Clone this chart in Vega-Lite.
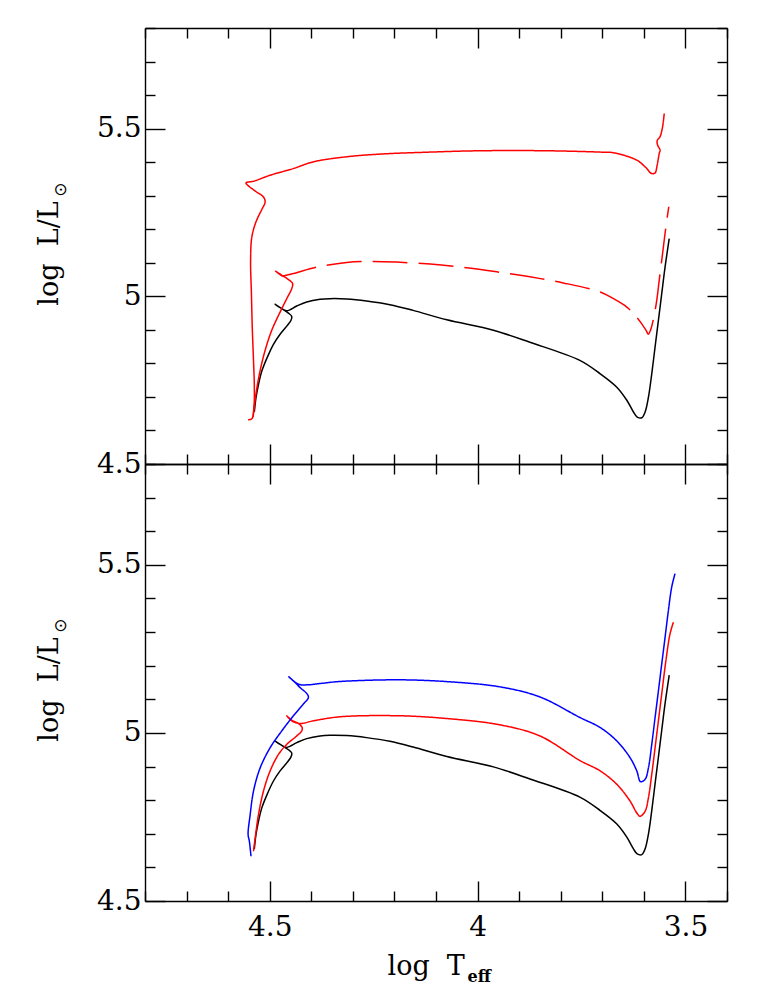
{
  "$schema": "https://vega.github.io/schema/vega-lite/v6.json",
  "background": "white",
  "padding": {"left": 35, "top": 14, "right": 10, "bottom": 5},
  "bounds": "flush",
  "config": {
    "view": {"stroke": null},
    "line": {"interpolate": "catmull-rom"},
    "axis": {
      "grid": false,
      "domainColor": "black", "domainWidth": 1.4,
      "tickColor": "black", "tickWidth": 1.4,
      "labelFont": "DejaVu Serif", "labelFontSize": 28, "labelColor": "black",
      "titleFont": "DejaVu Serif", "titleFontSize": 27, "titleColor": "black", "titleFontWeight": "normal",
      "labelOverlap": false, "labelFlush": false, "labelBound": false
    }
  },
  "datasets": {
    "black": [
      {"i":1,"x":4.537,"y":4.655},{"i":2,"x":4.533,"y":4.698},{"i":3,"x":4.527,"y":4.737},{"i":4,"x":4.519,"y":4.777},
      {"i":5,"x":4.507,"y":4.815},{"i":6,"x":4.491,"y":4.857},{"i":7,"x":4.475,"y":4.887},{"i":8,"x":4.459,"y":4.911},
      {"i":9,"x":4.449,"y":4.928},{"i":10,"x":4.447,"y":4.940},{"i":11,"x":4.455,"y":4.950},{"i":12,"x":4.471,"y":4.963},
      {"i":13,"x":4.487,"y":4.976},{"i":14,"x":4.475,"y":4.966},{"i":15,"x":4.459,"y":4.957},{"i":16,"x":4.435,"y":4.971},
      {"i":17,"x":4.411,"y":4.983},{"i":18,"x":4.379,"y":4.991},{"i":19,"x":4.355,"y":4.993},{"i":20,"x":4.315,"y":4.992},
      {"i":21,"x":4.267,"y":4.986},{"i":22,"x":4.211,"y":4.975},{"i":23,"x":4.155,"y":4.958},{"i":24,"x":4.074,"y":4.930},
      {"i":25,"x":3.962,"y":4.899},{"i":26,"x":3.874,"y":4.863},{"i":27,"x":3.754,"y":4.809},{"i":28,"x":3.705,"y":4.769},
      {"i":29,"x":3.665,"y":4.729},{"i":30,"x":3.641,"y":4.690},{"i":31,"x":3.625,"y":4.655},{"i":32,"x":3.616,"y":4.640},
      {"i":33,"x":3.605,"y":4.638},{"i":34,"x":3.597,"y":4.655},{"i":35,"x":3.589,"y":4.699},{"i":36,"x":3.581,"y":4.769},
      {"i":37,"x":3.573,"y":4.849},{"i":38,"x":3.565,"y":4.928},{"i":39,"x":3.557,"y":5.008},{"i":40,"x":3.549,"y":5.087},
      {"i":41,"x":3.539,"y":5.172}
    ],
    "top": [
      {"s":"B","i":1,"x":4.552,"y":4.632},{"s":"B","i":2,"x":4.543,"y":4.635},{"s":"B","i":3,"x":4.538,"y":4.670},
      {"s":"B","i":4,"x":4.537,"y":4.729},{"s":"B","i":5,"x":4.539,"y":4.809},{"s":"B","i":6,"x":4.542,"y":4.908},
      {"s":"B","i":7,"x":4.544,"y":5.008},{"s":"B","i":8,"x":4.546,"y":5.107},{"s":"B","i":9,"x":4.543,"y":5.177},
      {"s":"B","i":10,"x":4.533,"y":5.222},{"s":"B","i":11,"x":4.519,"y":5.259},{"s":"B","i":12,"x":4.511,"y":5.281},
      {"s":"B","i":13,"x":4.515,"y":5.296},{"s":"B","i":14,"x":4.535,"y":5.314},{"s":"B","i":15,"x":4.557,"y":5.338},
      {"s":"B","i":16,"x":4.539,"y":5.343},{"s":"B","i":17,"x":4.499,"y":5.361},{"s":"B","i":18,"x":4.443,"y":5.381},
      {"s":"B","i":19,"x":4.395,"y":5.401},{"s":"B","i":20,"x":4.315,"y":5.416},{"s":"B","i":21,"x":4.235,"y":5.424},
      {"s":"B","i":22,"x":4.114,"y":5.430},{"s":"B","i":23,"x":3.994,"y":5.434},{"s":"B","i":24,"x":3.834,"y":5.434},
      {"s":"B","i":25,"x":3.705,"y":5.430},{"s":"B","i":26,"x":3.673,"y":5.428},{"s":"B","i":27,"x":3.617,"y":5.406},
      {"s":"B","i":28,"x":3.597,"y":5.386},{"s":"B","i":29,"x":3.581,"y":5.366},{"s":"B","i":30,"x":3.573,"y":5.368},
      {"s":"B","i":31,"x":3.568,"y":5.391},{"s":"B","i":32,"x":3.563,"y":5.426},{"s":"B","i":33,"x":3.561,"y":5.436},
      {"s":"B","i":34,"x":3.567,"y":5.451},{"s":"B","i":35,"x":3.568,"y":5.464},{"s":"B","i":36,"x":3.561,"y":5.476},
      {"s":"B","i":37,"x":3.555,"y":5.505},{"s":"B","i":38,"x":3.551,"y":5.545},
      {"s":"C1","i":1,"x":4.540,"y":4.640},{"s":"C1","i":2,"x":4.533,"y":4.710},{"s":"C1","i":3,"x":4.523,"y":4.779},
      {"s":"C1","i":4,"x":4.511,"y":4.839},{"s":"C1","i":5,"x":4.495,"y":4.899},{"s":"C1","i":6,"x":4.475,"y":4.953},
      {"s":"C1","i":7,"x":4.459,"y":4.993},{"s":"C1","i":8,"x":4.447,"y":5.023},{"s":"C1","i":9,"x":4.445,"y":5.038},
      {"s":"C1","i":10,"x":4.455,"y":5.050},{"s":"C1","i":11,"x":4.471,"y":5.063},{"s":"C1","i":12,"x":4.486,"y":5.075},
      {"s":"C1","i":13,"x":4.470,"y":5.060},
      {"s":"C2","i":1,"x":4.470,"y":5.060},{"s":"C2","i":2,"x":4.443,"y":5.068},{"s":"C2","i":3,"x":4.387,"y":5.087},
      {"s":"C2","i":4,"x":4.315,"y":5.101},{"s":"C2","i":5,"x":4.251,"y":5.104},{"s":"C2","i":6,"x":4.195,"y":5.102},
      {"s":"C2","i":7,"x":4.114,"y":5.096},{"s":"C2","i":8,"x":4.034,"y":5.086},{"s":"C2","i":9,"x":3.954,"y":5.073},
      {"s":"C2","i":10,"x":3.874,"y":5.058},{"s":"C2","i":11,"x":3.794,"y":5.040},{"s":"C2","i":12,"x":3.705,"y":5.013},
      {"s":"C2","i":13,"x":3.673,"y":4.993},{"s":"C2","i":14,"x":3.641,"y":4.968},{"s":"C2","i":15,"x":3.621,"y":4.943},
      {"s":"C2","i":16,"x":3.608,"y":4.923},{"s":"C2","i":17,"x":3.595,"y":4.899},{"s":"C2","i":18,"x":3.589,"y":4.887},
      {"s":"C2","i":19,"x":3.584,"y":4.899},{"s":"C2","i":20,"x":3.576,"y":4.938},{"s":"C2","i":21,"x":3.569,"y":4.988},
      {"s":"C2","i":22,"x":3.563,"y":5.048},{"s":"C2","i":23,"x":3.555,"y":5.127},{"s":"C2","i":24,"x":3.547,"y":5.207},
      {"s":"C2","i":25,"x":3.540,"y":5.267}
    ],
    "bot": [
      {"s":"D","i":1,"x":4.539,"y":4.648},{"s":"D","i":2,"x":4.535,"y":4.687},{"s":"D","i":3,"x":4.527,"y":4.757},
      {"s":"D","i":4,"x":4.515,"y":4.827},{"s":"D","i":5,"x":4.499,"y":4.887},{"s":"D","i":6,"x":4.479,"y":4.936},
      {"s":"D","i":7,"x":4.459,"y":4.966},{"s":"D","i":8,"x":4.435,"y":4.991},{"s":"D","i":9,"x":4.423,"y":5.006},
      {"s":"D","i":10,"x":4.422,"y":5.016},{"s":"D","i":11,"x":4.431,"y":5.028},{"s":"D","i":12,"x":4.447,"y":5.038},
      {"s":"D","i":13,"x":4.459,"y":5.051},{"s":"D","i":14,"x":4.447,"y":5.036},{"s":"D","i":15,"x":4.427,"y":5.028},
      {"s":"D","i":16,"x":4.395,"y":5.036},{"s":"D","i":17,"x":4.331,"y":5.048},{"s":"D","i":18,"x":4.187,"y":5.051},
      {"s":"D","i":19,"x":4.066,"y":5.042},{"s":"D","i":20,"x":3.946,"y":5.024},{"s":"D","i":21,"x":3.850,"y":4.991},
      {"s":"D","i":22,"x":3.754,"y":4.918},{"s":"D","i":23,"x":3.705,"y":4.887},{"s":"D","i":24,"x":3.665,"y":4.847},
      {"s":"D","i":25,"x":3.633,"y":4.797},{"s":"D","i":26,"x":3.617,"y":4.762},{"s":"D","i":27,"x":3.609,"y":4.752},
      {"s":"D","i":28,"x":3.597,"y":4.767},{"s":"D","i":29,"x":3.589,"y":4.807},{"s":"D","i":30,"x":3.581,"y":4.877},
      {"s":"D","i":31,"x":3.573,"y":4.956},{"s":"D","i":32,"x":3.565,"y":5.036},{"s":"D","i":33,"x":3.557,"y":5.116},
      {"s":"D","i":34,"x":3.547,"y":5.215},{"s":"D","i":35,"x":3.537,"y":5.295},{"s":"D","i":36,"x":3.529,"y":5.329},
      {"s":"E","i":1,"x":4.545,"y":4.633},{"s":"E","i":2,"x":4.549,"y":4.678},{"s":"E","i":3,"x":4.552,"y":4.698},
      {"s":"E","i":4,"x":4.547,"y":4.757},{"s":"E","i":5,"x":4.539,"y":4.827},{"s":"E","i":6,"x":4.523,"y":4.896},
      {"s":"E","i":7,"x":4.499,"y":4.956},{"s":"E","i":8,"x":4.471,"y":5.006},{"s":"E","i":9,"x":4.443,"y":5.051},
      {"s":"E","i":10,"x":4.419,"y":5.086},{"s":"E","i":11,"x":4.407,"y":5.105},{"s":"E","i":12,"x":4.410,"y":5.116},
      {"s":"E","i":13,"x":4.427,"y":5.135},{"s":"E","i":14,"x":4.439,"y":5.150},{"s":"E","i":15,"x":4.454,"y":5.167},
      {"s":"E","i":16,"x":4.431,"y":5.145},{"s":"E","i":17,"x":4.411,"y":5.143},{"s":"E","i":18,"x":4.379,"y":5.147},
      {"s":"E","i":19,"x":4.331,"y":5.153},{"s":"E","i":20,"x":4.187,"y":5.158},{"s":"E","i":21,"x":4.066,"y":5.152},
      {"s":"E","i":22,"x":3.946,"y":5.137},{"s":"E","i":23,"x":3.850,"y":5.107},{"s":"E","i":24,"x":3.754,"y":5.046},
      {"s":"E","i":25,"x":3.705,"y":5.016},{"s":"E","i":26,"x":3.665,"y":4.976},{"s":"E","i":27,"x":3.633,"y":4.926},
      {"s":"E","i":28,"x":3.617,"y":4.887},{"s":"E","i":29,"x":3.608,"y":4.855},{"s":"E","i":30,"x":3.597,"y":4.862},
      {"s":"E","i":31,"x":3.589,"y":4.896},{"s":"E","i":32,"x":3.581,"y":4.966},{"s":"E","i":33,"x":3.573,"y":5.046},
      {"s":"E","i":34,"x":3.565,"y":5.125},{"s":"E","i":35,"x":3.557,"y":5.205},{"s":"E","i":36,"x":3.549,"y":5.284},
      {"s":"E","i":37,"x":3.541,"y":5.364},{"s":"E","i":38,"x":3.533,"y":5.434},{"s":"E","i":39,"x":3.525,"y":5.474}
    ]
  },
  "spacing": 0,
  "vconcat": [
    {
      "width": 582, "height": 436,
      "layer": [
        {
          "data": {"name": "black"},
          "mark": {"type": "line", "color": "black", "strokeWidth": 1.5},
          "encoding": {
            "x": {"field": "x", "type": "quantitative",
              "scale": {"domain": [3.4, 4.8], "reverse": true, "nice": false, "zero": false},
              "axis": {"orient": "bottom", "values": [3.4,3.5,3.6,3.7,3.8,3.9,4,4.1,4.2,4.3,4.4,4.5,4.6,4.7,4.8],
                "tickSize": {"condition": {"test": "abs(datum.value*2 - round(datum.value*2)) < 0.001", "value": -20}, "value": -10},
                "labels": false, "title": null}},
            "y": {"field": "y", "type": "quantitative",
              "scale": {"domain": [4.5, 5.8], "nice": false, "zero": false},
              "axis": {"orient": "left", "values": [4.5,4.6,4.7,4.8,4.9,5,5.1,5.2,5.3,5.4,5.5,5.6,5.7,5.8],
                "tickSize": {"condition": {"test": "abs(datum.value*2 - round(datum.value*2)) < 0.001", "value": -20}, "value": -10},
                "labelExpr": "abs(datum.value*2 - round(datum.value*2)) < 0.001 ? format(datum.value, '~g') : ''",
                "labelPadding": 24,
                "title": "log\u00a0\u00a0L/L", "titleAngle": 270, "titleX": -88, "titleY": 225, "titleAlign": "center", "titleBaseline": "alphabetic"}},
            "order": {"field": "i", "type": "quantitative"}
          }
        },
        {
          "data": {"name": "top"},
          "mark": {"type": "line", "strokeWidth": 1.5},
          "encoding": {
            "x": {"field": "x", "type": "quantitative",
              "scale": {"domain": [3.4, 4.8], "reverse": true, "nice": false, "zero": false},
              "axis": {"orient": "top", "values": [3.4,3.5,3.6,3.7,3.8,3.9,4,4.1,4.2,4.3,4.4,4.5,4.6,4.7,4.8],
                "tickSize": {"condition": {"test": "abs(datum.value*2 - round(datum.value*2)) < 0.001", "value": -20}, "value": -10},
                "labels": false, "title": null}},
            "y": {"field": "y", "type": "quantitative",
              "scale": {"domain": [4.5, 5.8], "nice": false, "zero": false},
              "axis": {"orient": "right", "values": [4.5,4.6,4.7,4.8,4.9,5,5.1,5.2,5.3,5.4,5.5,5.6,5.7,5.8],
                "tickSize": {"condition": {"test": "abs(datum.value*2 - round(datum.value*2)) < 0.001", "value": -20}, "value": -10},
                "labels": false,
                "title": "\u2299", "titleFontSize": 17, "titleFont": "DejaVu Sans", "titleAngle": 270, "titleX": -667, "titleY": 161, "titleAlign": "center", "titleBaseline": "middle"}},
            "color": {"field": "s", "type": "nominal", "legend": null,
              "scale": {"domain": ["B","C1","C2","D","E"], "range": ["#ff0000","#ff0000","#ff0000","#ff0000","#0000ff"]}},
            "strokeDash": {"field": "s", "type": "nominal", "legend": null,
              "scale": {"domain": ["B","C1","C2","D","E"], "range": [[1,0],[1,0],[35,11],[1,0],[1,0]]}},
            "order": {"field": "i", "type": "quantitative"}
          }
        }
      ],
      "resolve": {"axis": {"x": "independent", "y": "independent"}}
    },
    {
      "width": 582, "height": 437,
      "layer": [
        {
          "data": {"name": "black"},
          "mark": {"type": "line", "color": "black", "strokeWidth": 1.5},
          "encoding": {
            "x": {"field": "x", "type": "quantitative",
              "scale": {"domain": [3.4, 4.8], "reverse": true, "nice": false, "zero": false},
              "axis": {"orient": "bottom", "values": [3.4,3.5,3.6,3.7,3.8,3.9,4,4.1,4.2,4.3,4.4,4.5,4.6,4.7,4.8],
                "tickSize": {"condition": {"test": "abs(datum.value*2 - round(datum.value*2)) < 0.001", "value": -20}, "value": -10},
                "labelExpr": "abs(datum.value*2 - round(datum.value*2)) < 0.001 ? format(datum.value, '~g') : ''",
                "labelPadding": 32,
                "title": "log\u00a0\u00a0T", "titleX": 242, "titleY": 73, "titleAlign": "left", "titleBaseline": "alphabetic"}},
            "y": {"field": "y", "type": "quantitative",
              "scale": {"domain": [4.5, 5.8], "nice": false, "zero": false},
              "axis": {"orient": "left", "values": [4.5,4.6,4.7,4.8,4.9,5,5.1,5.2,5.3,5.4,5.5,5.6,5.7,5.8],
                "tickSize": {"condition": {"test": "abs(datum.value*2 - round(datum.value*2)) < 0.001", "value": -20}, "value": -10},
                "labelExpr": "abs(datum.value*2 - round(datum.value*2)) < 0.001 ? format(datum.value, '~g') : ''",
                "labelPadding": 24,
                "title": "log\u00a0\u00a0L/L", "titleAngle": 270, "titleX": -88, "titleY": 225, "titleAlign": "center", "titleBaseline": "alphabetic"}},
            "order": {"field": "i", "type": "quantitative"}
          }
        },
        {
          "data": {"name": "bot"},
          "mark": {"type": "line", "strokeWidth": 1.5},
          "encoding": {
            "x": {"field": "x", "type": "quantitative",
              "scale": {"domain": [3.4, 4.8], "reverse": true, "nice": false, "zero": false},
              "axis": {"orient": "top", "values": [3.4,3.5,3.6,3.7,3.8,3.9,4,4.1,4.2,4.3,4.4,4.5,4.6,4.7,4.8],
                "tickSize": {"condition": {"test": "abs(datum.value*2 - round(datum.value*2)) < 0.001", "value": -20}, "value": -10},
                "labels": false,
                "title": "eff", "titleFontSize": 16, "titleFontWeight": "bold", "titleX": 322, "titleY": 517, "titleAlign": "left", "titleBaseline": "alphabetic"}},
            "y": {"field": "y", "type": "quantitative",
              "scale": {"domain": [4.5, 5.8], "nice": false, "zero": false},
              "axis": {"orient": "right", "values": [4.5,4.6,4.7,4.8,4.9,5,5.1,5.2,5.3,5.4,5.5,5.6,5.7,5.8],
                "tickSize": {"condition": {"test": "abs(datum.value*2 - round(datum.value*2)) < 0.001", "value": -20}, "value": -10},
                "labels": false,
                "title": "\u2299", "titleFontSize": 17, "titleFont": "DejaVu Sans", "titleAngle": 270, "titleX": -667, "titleY": 161, "titleAlign": "center", "titleBaseline": "middle"}},
            "color": {"field": "s", "type": "nominal", "legend": null,
              "scale": {"domain": ["B","C1","C2","D","E"], "range": ["#ff0000","#ff0000","#ff0000","#ff0000","#0000ff"]}},
            "strokeDash": {"field": "s", "type": "nominal", "legend": null,
              "scale": {"domain": ["B","C1","C2","D","E"], "range": [[1,0],[1,0],[35,11],[1,0],[1,0]]}},
            "order": {"field": "i", "type": "quantitative"}
          }
        }
      ],
      "resolve": {"axis": {"x": "independent", "y": "independent"}}
    }
  ]
}
